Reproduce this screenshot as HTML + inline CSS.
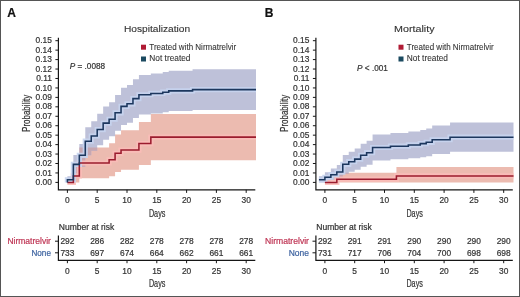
<!DOCTYPE html>
<html><head><meta charset="utf-8"><style>
html,body{margin:0;padding:0;background:#fff;}
body{width:520px;height:297px;overflow:hidden;}
svg{display:block;font-family:"Liberation Sans", sans-serif;will-change:transform;}
</style></head><body>
<svg width="520" height="297" viewBox="0 0 520 297">
<rect x="0" y="0" width="520" height="297" fill="#fff"/>
<path d="M73.36,166.99 L79.32,166.99 L79.32,147.62 L109.12,147.62 L109.12,143.18 L115.08,143.18 L115.08,134.55 L121.04,134.55 L121.04,130.34 L138.92,130.34 L138.92,122.07 L150.84,122.07 L150.84,113.96 L256.00,113.96 L256.00,160.26 L150.84,160.26 L150.84,165.09 L138.92,165.09 L138.92,169.75 L121.04,169.75 L121.04,172.01 L115.08,172.01 L115.08,176.33 L109.12,176.33 L109.12,178.36 L79.32,178.36 L79.32,182.40 L73.36,182.40 Z" fill="#ecbbb0"/>
<path d="M67.40,176.25 L73.36,176.25 L73.36,155.00 L79.32,155.00 L79.32,143.93 L85.28,143.93 L85.28,127.18 L91.24,127.18 L91.24,121.22 L97.20,121.22 L97.20,113.84 L103.16,113.84 L103.16,106.53 L109.12,106.53 L109.12,102.17 L115.08,102.17 L115.08,94.94 L121.04,94.94 L121.04,87.75 L127.00,87.75 L127.00,84.89 L132.96,84.89 L132.96,79.19 L138.92,79.19 L138.92,74.92 L150.84,74.92 L150.84,73.50 L162.76,73.50 L162.76,72.08 L168.72,72.08 L168.72,70.67 L192.56,70.67 L192.56,69.25 L256.00,69.25 L256.00,109.96 L192.56,109.96 L192.56,111.12 L168.72,111.12 L168.72,112.28 L162.76,112.28 L162.76,113.44 L150.84,113.44 L150.84,114.60 L138.92,114.60 L138.92,118.07 L132.96,118.07 L132.96,122.67 L127.00,122.67 L127.00,124.97 L121.04,124.97 L121.04,130.67 L115.08,130.67 L115.08,136.33 L109.12,136.33 L109.12,139.70 L103.16,139.70 L103.16,145.27 L97.20,145.27 L97.20,150.78 L91.24,150.78 L91.24,155.13 L85.28,155.13 L85.28,166.74 L79.32,166.74 L79.32,173.72 L73.36,173.72 L73.36,182.40 L67.40,182.40 Z" fill="#bec1d9"/>
<clipPath id="clipred0"><path d="M73.36,166.99 L79.32,166.99 L79.32,147.62 L109.12,147.62 L109.12,143.18 L115.08,143.18 L115.08,134.55 L121.04,134.55 L121.04,130.34 L138.92,130.34 L138.92,122.07 L150.84,122.07 L150.84,113.96 L256.00,113.96 L256.00,160.26 L150.84,160.26 L150.84,165.09 L138.92,165.09 L138.92,169.75 L121.04,169.75 L121.04,172.01 L115.08,172.01 L115.08,176.33 L109.12,176.33 L109.12,178.36 L79.32,178.36 L79.32,182.40 L73.36,182.40 Z" /></clipPath>
<g clip-path="url(#clipred0)"><path d="M67.40,176.25 L73.36,176.25 L73.36,155.00 L79.32,155.00 L79.32,143.93 L85.28,143.93 L85.28,127.18 L91.24,127.18 L91.24,121.22 L97.20,121.22 L97.20,113.84 L103.16,113.84 L103.16,106.53 L109.12,106.53 L109.12,102.17 L115.08,102.17 L115.08,94.94 L121.04,94.94 L121.04,87.75 L127.00,87.75 L127.00,84.89 L132.96,84.89 L132.96,79.19 L138.92,79.19 L138.92,74.92 L150.84,74.92 L150.84,73.50 L162.76,73.50 L162.76,72.08 L168.72,72.08 L168.72,70.67 L192.56,70.67 L192.56,69.25 L256.00,69.25 L256.00,109.96 L192.56,109.96 L192.56,111.12 L168.72,111.12 L168.72,112.28 L162.76,112.28 L162.76,113.44 L150.84,113.44 L150.84,114.60 L138.92,114.60 L138.92,118.07 L132.96,118.07 L132.96,122.67 L127.00,122.67 L127.00,124.97 L121.04,124.97 L121.04,130.67 L115.08,130.67 L115.08,136.33 L109.12,136.33 L109.12,139.70 L103.16,139.70 L103.16,145.27 L97.20,145.27 L97.20,150.78 L91.24,150.78 L91.24,155.13 L85.28,155.13 L85.28,166.74 L79.32,166.74 L79.32,173.72 L73.36,173.72 L73.36,182.40 L67.40,182.40 Z" fill="#c6a7b2"/></g>
<path d="M67.40,182.40 L73.36,182.40 L73.36,175.93 L79.32,175.93 L79.32,162.99 L109.12,162.99 L109.12,159.75 L115.08,159.75 L115.08,153.28 L121.04,153.28 L121.04,150.05 L138.92,150.05 L138.92,143.58 L150.84,143.58 L150.84,137.11 L256.00,137.11" fill="none" stroke="#fbbdb8" stroke-width="5.20" stroke-opacity="0.9" stroke-linejoin="miter"/>
<path d="M67.40,182.40 L67.40,182.40 L67.40,179.82 L73.36,179.82 L73.36,164.36 L79.32,164.36 L79.32,155.33 L85.28,155.33 L85.28,141.16 L91.24,141.16 L91.24,136.00 L97.20,136.00 L97.20,129.56 L103.16,129.56 L103.16,123.11 L109.12,123.11 L109.12,119.25 L115.08,119.25 L115.08,112.80 L121.04,112.80 L121.04,106.36 L127.00,106.36 L127.00,103.78 L132.96,103.78 L132.96,98.63 L138.92,98.63 L138.92,94.76 L150.84,94.76 L150.84,93.47 L162.76,93.47 L162.76,92.18 L168.72,92.18 L168.72,90.89 L192.56,90.89 L192.56,89.61 L256.00,89.61" fill="none" stroke="#c6d4ee" stroke-width="5.20" stroke-opacity="0.9" stroke-linejoin="miter"/>
<path d="M67.40,182.40 L73.36,182.40 L73.36,175.93 L79.32,175.93 L79.32,162.99 L109.12,162.99 L109.12,159.75 L115.08,159.75 L115.08,153.28 L121.04,153.28 L121.04,150.05 L138.92,150.05 L138.92,143.58 L150.84,143.58 L150.84,137.11 L256.00,137.11" fill="none" stroke="#9b1c2e" stroke-width="1.55" stroke-linejoin="miter"/>
<path d="M67.40,182.40 L67.40,182.40 L67.40,179.82 L73.36,179.82 L73.36,164.36 L79.32,164.36 L79.32,155.33 L85.28,155.33 L85.28,141.16 L91.24,141.16 L91.24,136.00 L97.20,136.00 L97.20,129.56 L103.16,129.56 L103.16,123.11 L109.12,123.11 L109.12,119.25 L115.08,119.25 L115.08,112.80 L121.04,112.80 L121.04,106.36 L127.00,106.36 L127.00,103.78 L132.96,103.78 L132.96,98.63 L138.92,98.63 L138.92,94.76 L150.84,94.76 L150.84,93.47 L162.76,93.47 L162.76,92.18 L168.72,92.18 L168.72,90.89 L192.56,90.89 L192.56,89.61 L256.00,89.61" fill="none" stroke="#1c375e" stroke-width="1.55" stroke-linejoin="miter"/>
<path d="M58.4,37.7 L58.4,189.8 L255.3,189.8" fill="none" stroke="#161616" stroke-width="1.2"/>
<path d="M55.4,182.40 L58.4,182.40 M55.4,172.95 L58.4,172.95 M55.4,163.51 L58.4,163.51 M55.4,154.06 L58.4,154.06 M55.4,144.61 L58.4,144.61 M55.4,135.16 L58.4,135.16 M55.4,125.72 L58.4,125.72 M55.4,116.27 L58.4,116.27 M55.4,106.82 L58.4,106.82 M55.4,97.38 L58.4,97.38 M55.4,87.93 L58.4,87.93 M55.4,78.48 L58.4,78.48 M55.4,69.04 L58.4,69.04 M55.4,59.59 L58.4,59.59 M55.4,50.14 L58.4,50.14 M55.4,40.69 L58.4,40.69 M67.40,189.8 L67.40,192.9 M97.20,189.8 L97.20,192.9 M127.00,189.8 L127.00,192.9 M156.80,189.8 L156.80,192.9 M186.60,189.8 L186.60,192.9 M216.40,189.8 L216.40,192.9 M246.20,189.8 L246.20,192.9" stroke="#161616" stroke-width="1"/>
<text x="51.9" y="185.00" text-anchor="end" font-size="8.4" fill="#333333" stroke="#333333" stroke-width="0.20">0.00</text>
<text x="51.9" y="175.55" text-anchor="end" font-size="8.4" fill="#333333" stroke="#333333" stroke-width="0.20">0.01</text>
<text x="51.9" y="166.11" text-anchor="end" font-size="8.4" fill="#333333" stroke="#333333" stroke-width="0.20">0.02</text>
<text x="51.9" y="156.66" text-anchor="end" font-size="8.4" fill="#333333" stroke="#333333" stroke-width="0.20">0.03</text>
<text x="51.9" y="147.21" text-anchor="end" font-size="8.4" fill="#333333" stroke="#333333" stroke-width="0.20">0.04</text>
<text x="51.9" y="137.76" text-anchor="end" font-size="8.4" fill="#333333" stroke="#333333" stroke-width="0.20">0.05</text>
<text x="51.9" y="128.32" text-anchor="end" font-size="8.4" fill="#333333" stroke="#333333" stroke-width="0.20">0.06</text>
<text x="51.9" y="118.87" text-anchor="end" font-size="8.4" fill="#333333" stroke="#333333" stroke-width="0.20">0.07</text>
<text x="51.9" y="109.42" text-anchor="end" font-size="8.4" fill="#333333" stroke="#333333" stroke-width="0.20">0.08</text>
<text x="51.9" y="99.98" text-anchor="end" font-size="8.4" fill="#333333" stroke="#333333" stroke-width="0.20">0.09</text>
<text x="51.9" y="90.53" text-anchor="end" font-size="8.4" fill="#333333" stroke="#333333" stroke-width="0.20">0.10</text>
<text x="51.9" y="81.08" text-anchor="end" font-size="8.4" fill="#333333" stroke="#333333" stroke-width="0.20">0.11</text>
<text x="51.9" y="71.64" text-anchor="end" font-size="8.4" fill="#333333" stroke="#333333" stroke-width="0.20">0.12</text>
<text x="51.9" y="62.19" text-anchor="end" font-size="8.4" fill="#333333" stroke="#333333" stroke-width="0.20">0.13</text>
<text x="51.9" y="52.74" text-anchor="end" font-size="8.4" fill="#333333" stroke="#333333" stroke-width="0.20">0.14</text>
<text x="51.9" y="43.29" text-anchor="end" font-size="8.4" fill="#333333" stroke="#333333" stroke-width="0.20">0.15</text>
<text x="67.40" y="203.3" text-anchor="middle" font-size="8.4" fill="#333333" stroke="#333333" stroke-width="0.20">0</text>
<text x="97.20" y="203.3" text-anchor="middle" font-size="8.4" fill="#333333" stroke="#333333" stroke-width="0.20">5</text>
<text x="127.00" y="203.3" text-anchor="middle" font-size="8.4" fill="#333333" stroke="#333333" stroke-width="0.20">10</text>
<text x="156.80" y="203.3" text-anchor="middle" font-size="8.4" fill="#333333" stroke="#333333" stroke-width="0.20">15</text>
<text x="186.60" y="203.3" text-anchor="middle" font-size="8.4" fill="#333333" stroke="#333333" stroke-width="0.20">20</text>
<text x="216.40" y="203.3" text-anchor="middle" font-size="8.4" fill="#333333" stroke="#333333" stroke-width="0.20">25</text>
<text x="246.20" y="203.3" text-anchor="middle" font-size="8.4" fill="#333333" stroke="#333333" stroke-width="0.20">30</text>
<text x="148.9" y="216.9" font-size="10" fill="#333333" stroke="#333333" stroke-width="0.20" textLength="16.5" lengthAdjust="spacingAndGlyphs">Days</text>
<text transform="translate(30.0,131.9) rotate(-90)" font-size="10.6" fill="#333333" stroke="#333333" stroke-width="0.20" textLength="37.2" lengthAdjust="spacingAndGlyphs">Probability</text>
<text x="123.9" y="31.8" font-size="9.9" fill="#333333" stroke="#333333" stroke-width="0.12" textLength="66.2" lengthAdjust="spacingAndGlyphs">Hospitalization</text>
<text x="7.2" y="17.3" font-size="12" font-weight="bold" fill="#111" stroke="#111" stroke-width="0.20">A</text>
<rect x="141.0" y="44.7" width="5" height="5" fill="#b01b34"/>
<rect x="141.0" y="56.5" width="5" height="5" fill="#1b4a60"/>
<text x="149.3" y="50" font-size="8.5" fill="#333333" stroke="#333333" stroke-width="0.08" textLength="87" lengthAdjust="spacingAndGlyphs">Treated with Nirmatrelvir</text>
<text x="149.3" y="61.3" font-size="8.5" fill="#333333" stroke="#333333" stroke-width="0.08" textLength="41.2" lengthAdjust="spacingAndGlyphs">Not treated</text>
<text x="69.8" y="68.8" font-size="8.2" fill="#333333" stroke="#333333" stroke-width="0.20"><tspan font-style="italic">P</tspan> = .0088</text>
<text x="58.8" y="229.9" font-size="8.2" fill="#333333" stroke="#333333" stroke-width="0.20" textLength="55.4" lengthAdjust="spacingAndGlyphs">Number at risk</text>
<path d="M58.4,235.5 L58.4,260.3 L255.3,260.3" fill="none" stroke="#161616" stroke-width="1.2"/>
<path d="M55.0,241.2 L58.4,241.2 M55.0,252.8 L58.4,252.8 M67.40,260.2 L67.40,263.2 M97.20,260.2 L97.20,263.2 M127.00,260.2 L127.00,263.2 M156.80,260.2 L156.80,263.2 M186.60,260.2 L186.60,263.2 M216.40,260.2 L216.40,263.2 M246.20,260.2 L246.20,263.2" stroke="#161616" stroke-width="1"/>
<text x="7.4" y="244" font-size="8.4" fill="#bf3554" stroke="#bf3554" stroke-width="0.20" textLength="43.5" lengthAdjust="spacingAndGlyphs">Nirmatrelvir</text>
<text x="31.5" y="256.3" font-size="8.4" fill="#3d63a0" stroke="#3d63a0" stroke-width="0.20" textLength="19.4" lengthAdjust="spacingAndGlyphs">None</text>
<text x="67.40" y="244" text-anchor="middle" font-size="8.4" fill="#333333" stroke="#333333" stroke-width="0.20">292</text>
<text x="67.40" y="256.3" text-anchor="middle" font-size="8.4" fill="#333333" stroke="#333333" stroke-width="0.20">733</text>
<text x="67.40" y="273.9" text-anchor="middle" font-size="8.4" fill="#333333" stroke="#333333" stroke-width="0.20">0</text>
<text x="97.20" y="244" text-anchor="middle" font-size="8.4" fill="#333333" stroke="#333333" stroke-width="0.20">286</text>
<text x="97.20" y="256.3" text-anchor="middle" font-size="8.4" fill="#333333" stroke="#333333" stroke-width="0.20">697</text>
<text x="97.20" y="273.9" text-anchor="middle" font-size="8.4" fill="#333333" stroke="#333333" stroke-width="0.20">5</text>
<text x="127.00" y="244" text-anchor="middle" font-size="8.4" fill="#333333" stroke="#333333" stroke-width="0.20">282</text>
<text x="127.00" y="256.3" text-anchor="middle" font-size="8.4" fill="#333333" stroke="#333333" stroke-width="0.20">674</text>
<text x="127.00" y="273.9" text-anchor="middle" font-size="8.4" fill="#333333" stroke="#333333" stroke-width="0.20">10</text>
<text x="156.80" y="244" text-anchor="middle" font-size="8.4" fill="#333333" stroke="#333333" stroke-width="0.20">278</text>
<text x="156.80" y="256.3" text-anchor="middle" font-size="8.4" fill="#333333" stroke="#333333" stroke-width="0.20">664</text>
<text x="156.80" y="273.9" text-anchor="middle" font-size="8.4" fill="#333333" stroke="#333333" stroke-width="0.20">15</text>
<text x="186.60" y="244" text-anchor="middle" font-size="8.4" fill="#333333" stroke="#333333" stroke-width="0.20">278</text>
<text x="186.60" y="256.3" text-anchor="middle" font-size="8.4" fill="#333333" stroke="#333333" stroke-width="0.20">662</text>
<text x="186.60" y="273.9" text-anchor="middle" font-size="8.4" fill="#333333" stroke="#333333" stroke-width="0.20">20</text>
<text x="216.40" y="244" text-anchor="middle" font-size="8.4" fill="#333333" stroke="#333333" stroke-width="0.20">278</text>
<text x="216.40" y="256.3" text-anchor="middle" font-size="8.4" fill="#333333" stroke="#333333" stroke-width="0.20">661</text>
<text x="216.40" y="273.9" text-anchor="middle" font-size="8.4" fill="#333333" stroke="#333333" stroke-width="0.20">25</text>
<text x="246.20" y="244" text-anchor="middle" font-size="8.4" fill="#333333" stroke="#333333" stroke-width="0.20">278</text>
<text x="246.20" y="256.3" text-anchor="middle" font-size="8.4" fill="#333333" stroke="#333333" stroke-width="0.20">661</text>
<text x="246.20" y="273.9" text-anchor="middle" font-size="8.4" fill="#333333" stroke="#333333" stroke-width="0.20">30</text>
<text x="148.9" y="287.1" font-size="10" fill="#333333" stroke="#333333" stroke-width="0.20" textLength="16.5" lengthAdjust="spacingAndGlyphs">Days</text>
<path d="M336.82,172.83 L396.42,172.83 L396.42,166.99 L513.50,166.99 L513.50,182.40 L396.42,182.40 L396.42,182.40 L336.82,182.40 Z" fill="#ecbbb0"/>
<path d="M318.94,176.24 L324.90,176.24 L324.90,172.18 L330.86,172.18 L330.86,168.47 L336.82,168.47 L336.82,164.94 L342.78,164.94 L342.78,154.92 L348.74,154.92 L348.74,151.70 L354.70,151.70 L354.70,148.52 L360.66,148.52 L360.66,143.82 L366.62,143.82 L366.62,140.72 L372.58,140.72 L372.58,134.59 L390.46,134.59 L390.46,133.07 L408.34,133.07 L408.34,131.55 L420.26,131.55 L420.26,130.04 L426.22,130.04 L426.22,128.54 L432.18,128.54 L432.18,125.53 L450.06,125.53 L450.06,122.55 L513.50,122.55 L513.50,151.79 L450.06,151.79 L450.06,153.97 L432.18,153.97 L432.18,156.14 L426.22,156.14 L426.22,157.22 L420.26,157.22 L420.26,158.29 L408.34,158.29 L408.34,159.36 L390.46,159.36 L390.46,160.42 L372.58,160.42 L372.58,164.63 L366.62,164.63 L366.62,166.70 L360.66,166.70 L360.66,169.75 L354.70,169.75 L354.70,171.74 L348.74,171.74 L348.74,173.69 L342.78,173.69 L342.78,179.19 L336.82,179.19 L336.82,180.82 L330.86,180.82 L330.86,182.28 L324.90,182.28 L324.90,182.40 L318.94,182.40 Z" fill="#bec1d9"/>
<clipPath id="clipred257"><path d="M336.82,172.83 L396.42,172.83 L396.42,166.99 L513.50,166.99 L513.50,182.40 L396.42,182.40 L396.42,182.40 L336.82,182.40 Z" /></clipPath>
<g clip-path="url(#clipred257)"><path d="M318.94,176.24 L324.90,176.24 L324.90,172.18 L330.86,172.18 L330.86,168.47 L336.82,168.47 L336.82,164.94 L342.78,164.94 L342.78,154.92 L348.74,154.92 L348.74,151.70 L354.70,151.70 L354.70,148.52 L360.66,148.52 L360.66,143.82 L366.62,143.82 L366.62,140.72 L372.58,140.72 L372.58,134.59 L390.46,134.59 L390.46,133.07 L408.34,133.07 L408.34,131.55 L420.26,131.55 L420.26,130.04 L426.22,130.04 L426.22,128.54 L432.18,128.54 L432.18,125.53 L450.06,125.53 L450.06,122.55 L513.50,122.55 L513.50,151.79 L450.06,151.79 L450.06,153.97 L432.18,153.97 L432.18,156.14 L426.22,156.14 L426.22,157.22 L420.26,157.22 L420.26,158.29 L408.34,158.29 L408.34,159.36 L390.46,159.36 L390.46,160.42 L372.58,160.42 L372.58,164.63 L366.62,164.63 L366.62,166.70 L360.66,166.70 L360.66,169.75 L354.70,169.75 L354.70,171.74 L348.74,171.74 L348.74,173.69 L342.78,173.69 L342.78,179.19 L336.82,179.19 L336.82,180.82 L330.86,180.82 L330.86,182.28 L324.90,182.28 L324.90,182.40 L318.94,182.40 Z" fill="#c6a7b2"/></g>
<path d="M324.90,182.40 L336.82,182.40 L336.82,179.16 L396.42,179.16 L396.42,175.93 L513.50,175.93" fill="none" stroke="#fbbdb8" stroke-width="5.20" stroke-opacity="0.9" stroke-linejoin="miter"/>
<path d="M318.94,179.82 L324.90,179.82 L324.90,177.23 L330.86,177.23 L330.86,174.65 L336.82,174.65 L336.82,172.06 L342.78,172.06 L342.78,164.31 L348.74,164.31 L348.74,161.72 L354.70,161.72 L354.70,159.14 L360.66,159.14 L360.66,155.26 L366.62,155.26 L366.62,152.68 L372.58,152.68 L372.58,147.51 L390.46,147.51 L390.46,146.21 L408.34,146.21 L408.34,144.92 L420.26,144.92 L420.26,143.63 L426.22,143.63 L426.22,142.34 L432.18,142.34 L432.18,139.75 L450.06,139.75 L450.06,137.17 L513.50,137.17" fill="none" stroke="#c6d4ee" stroke-width="5.20" stroke-opacity="0.9" stroke-linejoin="miter"/>
<path d="M324.90,182.40 L336.82,182.40 L336.82,179.16 L396.42,179.16 L396.42,175.93 L513.50,175.93" fill="none" stroke="#9b1c2e" stroke-width="1.55" stroke-linejoin="miter"/>
<path d="M318.94,179.82 L324.90,179.82 L324.90,177.23 L330.86,177.23 L330.86,174.65 L336.82,174.65 L336.82,172.06 L342.78,172.06 L342.78,164.31 L348.74,164.31 L348.74,161.72 L354.70,161.72 L354.70,159.14 L360.66,159.14 L360.66,155.26 L366.62,155.26 L366.62,152.68 L372.58,152.68 L372.58,147.51 L390.46,147.51 L390.46,146.21 L408.34,146.21 L408.34,144.92 L420.26,144.92 L420.26,143.63 L426.22,143.63 L426.22,142.34 L432.18,142.34 L432.18,139.75 L450.06,139.75 L450.06,137.17 L513.50,137.17" fill="none" stroke="#1c375e" stroke-width="1.55" stroke-linejoin="miter"/>
<path d="M315.9,37.7 L315.9,189.8 L512.8,189.8" fill="none" stroke="#161616" stroke-width="1.2"/>
<path d="M312.9,182.40 L315.9,182.40 M312.9,172.95 L315.9,172.95 M312.9,163.51 L315.9,163.51 M312.9,154.06 L315.9,154.06 M312.9,144.61 L315.9,144.61 M312.9,135.16 L315.9,135.16 M312.9,125.72 L315.9,125.72 M312.9,116.27 L315.9,116.27 M312.9,106.82 L315.9,106.82 M312.9,97.38 L315.9,97.38 M312.9,87.93 L315.9,87.93 M312.9,78.48 L315.9,78.48 M312.9,69.04 L315.9,69.04 M312.9,59.59 L315.9,59.59 M312.9,50.14 L315.9,50.14 M312.9,40.69 L315.9,40.69 M324.90,189.8 L324.90,192.9 M354.70,189.8 L354.70,192.9 M384.50,189.8 L384.50,192.9 M414.30,189.8 L414.30,192.9 M444.10,189.8 L444.10,192.9 M473.90,189.8 L473.90,192.9 M503.70,189.8 L503.70,192.9" stroke="#161616" stroke-width="1"/>
<text x="309.4" y="185.00" text-anchor="end" font-size="8.4" fill="#333333" stroke="#333333" stroke-width="0.20">0.00</text>
<text x="309.4" y="175.55" text-anchor="end" font-size="8.4" fill="#333333" stroke="#333333" stroke-width="0.20">0.01</text>
<text x="309.4" y="166.11" text-anchor="end" font-size="8.4" fill="#333333" stroke="#333333" stroke-width="0.20">0.02</text>
<text x="309.4" y="156.66" text-anchor="end" font-size="8.4" fill="#333333" stroke="#333333" stroke-width="0.20">0.03</text>
<text x="309.4" y="147.21" text-anchor="end" font-size="8.4" fill="#333333" stroke="#333333" stroke-width="0.20">0.04</text>
<text x="309.4" y="137.76" text-anchor="end" font-size="8.4" fill="#333333" stroke="#333333" stroke-width="0.20">0.05</text>
<text x="309.4" y="128.32" text-anchor="end" font-size="8.4" fill="#333333" stroke="#333333" stroke-width="0.20">0.06</text>
<text x="309.4" y="118.87" text-anchor="end" font-size="8.4" fill="#333333" stroke="#333333" stroke-width="0.20">0.07</text>
<text x="309.4" y="109.42" text-anchor="end" font-size="8.4" fill="#333333" stroke="#333333" stroke-width="0.20">0.08</text>
<text x="309.4" y="99.98" text-anchor="end" font-size="8.4" fill="#333333" stroke="#333333" stroke-width="0.20">0.09</text>
<text x="309.4" y="90.53" text-anchor="end" font-size="8.4" fill="#333333" stroke="#333333" stroke-width="0.20">0.10</text>
<text x="309.4" y="81.08" text-anchor="end" font-size="8.4" fill="#333333" stroke="#333333" stroke-width="0.20">0.11</text>
<text x="309.4" y="71.64" text-anchor="end" font-size="8.4" fill="#333333" stroke="#333333" stroke-width="0.20">0.12</text>
<text x="309.4" y="62.19" text-anchor="end" font-size="8.4" fill="#333333" stroke="#333333" stroke-width="0.20">0.13</text>
<text x="309.4" y="52.74" text-anchor="end" font-size="8.4" fill="#333333" stroke="#333333" stroke-width="0.20">0.14</text>
<text x="309.4" y="43.29" text-anchor="end" font-size="8.4" fill="#333333" stroke="#333333" stroke-width="0.20">0.15</text>
<text x="324.90" y="203.3" text-anchor="middle" font-size="8.4" fill="#333333" stroke="#333333" stroke-width="0.20">0</text>
<text x="354.70" y="203.3" text-anchor="middle" font-size="8.4" fill="#333333" stroke="#333333" stroke-width="0.20">5</text>
<text x="384.50" y="203.3" text-anchor="middle" font-size="8.4" fill="#333333" stroke="#333333" stroke-width="0.20">10</text>
<text x="414.30" y="203.3" text-anchor="middle" font-size="8.4" fill="#333333" stroke="#333333" stroke-width="0.20">15</text>
<text x="444.10" y="203.3" text-anchor="middle" font-size="8.4" fill="#333333" stroke="#333333" stroke-width="0.20">20</text>
<text x="473.90" y="203.3" text-anchor="middle" font-size="8.4" fill="#333333" stroke="#333333" stroke-width="0.20">25</text>
<text x="503.70" y="203.3" text-anchor="middle" font-size="8.4" fill="#333333" stroke="#333333" stroke-width="0.20">30</text>
<text x="406.4" y="216.9" font-size="10" fill="#333333" stroke="#333333" stroke-width="0.20" textLength="16.5" lengthAdjust="spacingAndGlyphs">Days</text>
<text transform="translate(287.5,131.9) rotate(-90)" font-size="10.6" fill="#333333" stroke="#333333" stroke-width="0.20" textLength="37.2" lengthAdjust="spacingAndGlyphs">Probability</text>
<text x="394.1" y="31.8" font-size="9.9" fill="#333333" stroke="#333333" stroke-width="0.12" textLength="40.4" lengthAdjust="spacingAndGlyphs">Mortality</text>
<text x="264.7" y="17.3" font-size="12" font-weight="bold" fill="#111" stroke="#111" stroke-width="0.20">B</text>
<rect x="398.5" y="44.7" width="5" height="5" fill="#b01b34"/>
<rect x="398.5" y="56.5" width="5" height="5" fill="#1b4a60"/>
<text x="406.8" y="50" font-size="8.5" fill="#333333" stroke="#333333" stroke-width="0.08" textLength="87" lengthAdjust="spacingAndGlyphs">Treated with Nirmatrelvir</text>
<text x="406.8" y="61.3" font-size="8.5" fill="#333333" stroke="#333333" stroke-width="0.08" textLength="41.2" lengthAdjust="spacingAndGlyphs">Not treated</text>
<text x="357.1" y="70.7" font-size="8.2" fill="#333333" stroke="#333333" stroke-width="0.20"><tspan font-style="italic">P</tspan> &lt; .001</text>
<text x="316.3" y="229.9" font-size="8.2" fill="#333333" stroke="#333333" stroke-width="0.20" textLength="55.4" lengthAdjust="spacingAndGlyphs">Number at risk</text>
<path d="M315.9,235.5 L315.9,260.3 L512.8,260.3" fill="none" stroke="#161616" stroke-width="1.2"/>
<path d="M312.5,241.2 L315.9,241.2 M312.5,252.8 L315.9,252.8 M324.90,260.2 L324.90,263.2 M354.70,260.2 L354.70,263.2 M384.50,260.2 L384.50,263.2 M414.30,260.2 L414.30,263.2 M444.10,260.2 L444.10,263.2 M473.90,260.2 L473.90,263.2 M503.70,260.2 L503.70,263.2" stroke="#161616" stroke-width="1"/>
<text x="265.0" y="244" font-size="8.4" fill="#bf3554" stroke="#bf3554" stroke-width="0.20" textLength="44.0" lengthAdjust="spacingAndGlyphs">Nirmatrelvir</text>
<text x="288.7" y="256.3" font-size="8.4" fill="#3d63a0" stroke="#3d63a0" stroke-width="0.20" textLength="20.3" lengthAdjust="spacingAndGlyphs">None</text>
<text x="324.90" y="244" text-anchor="middle" font-size="8.4" fill="#333333" stroke="#333333" stroke-width="0.20">292</text>
<text x="324.90" y="256.3" text-anchor="middle" font-size="8.4" fill="#333333" stroke="#333333" stroke-width="0.20">731</text>
<text x="324.90" y="273.9" text-anchor="middle" font-size="8.4" fill="#333333" stroke="#333333" stroke-width="0.20">0</text>
<text x="354.70" y="244" text-anchor="middle" font-size="8.4" fill="#333333" stroke="#333333" stroke-width="0.20">291</text>
<text x="354.70" y="256.3" text-anchor="middle" font-size="8.4" fill="#333333" stroke="#333333" stroke-width="0.20">717</text>
<text x="354.70" y="273.9" text-anchor="middle" font-size="8.4" fill="#333333" stroke="#333333" stroke-width="0.20">5</text>
<text x="384.50" y="244" text-anchor="middle" font-size="8.4" fill="#333333" stroke="#333333" stroke-width="0.20">291</text>
<text x="384.50" y="256.3" text-anchor="middle" font-size="8.4" fill="#333333" stroke="#333333" stroke-width="0.20">706</text>
<text x="384.50" y="273.9" text-anchor="middle" font-size="8.4" fill="#333333" stroke="#333333" stroke-width="0.20">10</text>
<text x="414.30" y="244" text-anchor="middle" font-size="8.4" fill="#333333" stroke="#333333" stroke-width="0.20">290</text>
<text x="414.30" y="256.3" text-anchor="middle" font-size="8.4" fill="#333333" stroke="#333333" stroke-width="0.20">704</text>
<text x="414.30" y="273.9" text-anchor="middle" font-size="8.4" fill="#333333" stroke="#333333" stroke-width="0.20">15</text>
<text x="444.10" y="244" text-anchor="middle" font-size="8.4" fill="#333333" stroke="#333333" stroke-width="0.20">290</text>
<text x="444.10" y="256.3" text-anchor="middle" font-size="8.4" fill="#333333" stroke="#333333" stroke-width="0.20">700</text>
<text x="444.10" y="273.9" text-anchor="middle" font-size="8.4" fill="#333333" stroke="#333333" stroke-width="0.20">20</text>
<text x="473.90" y="244" text-anchor="middle" font-size="8.4" fill="#333333" stroke="#333333" stroke-width="0.20">290</text>
<text x="473.90" y="256.3" text-anchor="middle" font-size="8.4" fill="#333333" stroke="#333333" stroke-width="0.20">698</text>
<text x="473.90" y="273.9" text-anchor="middle" font-size="8.4" fill="#333333" stroke="#333333" stroke-width="0.20">25</text>
<text x="503.70" y="244" text-anchor="middle" font-size="8.4" fill="#333333" stroke="#333333" stroke-width="0.20">290</text>
<text x="503.70" y="256.3" text-anchor="middle" font-size="8.4" fill="#333333" stroke="#333333" stroke-width="0.20">698</text>
<text x="503.70" y="273.9" text-anchor="middle" font-size="8.4" fill="#333333" stroke="#333333" stroke-width="0.20">30</text>
<text x="406.4" y="287.1" font-size="10" fill="#333333" stroke="#333333" stroke-width="0.20" textLength="16.5" lengthAdjust="spacingAndGlyphs">Days</text>
<rect x="0.5" y="0.5" width="519" height="296" fill="none" stroke="#555" stroke-width="1"/>
</svg>
</body></html>
